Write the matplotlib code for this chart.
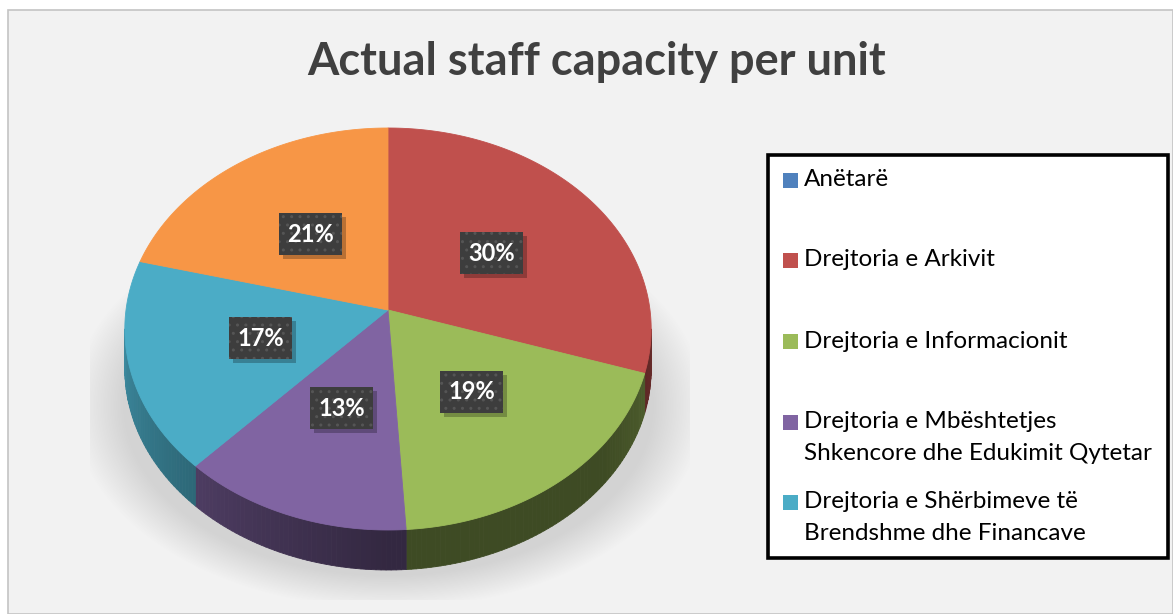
import numpy as np
import matplotlib.pyplot as plt
from matplotlib.colors import to_rgb
from matplotlib.patches import Polygon, Rectangle
from matplotlib.collections import PolyCollection

# ---- data ----
units = [
    "Anëtarë",
    "Drejtoria e Arkivit",
    "Drejtoria e Informacionit",
    "Drejtoria e Mbështetjes\nShkencore dhe Edukimit Qytetar",
    "Drejtoria e Shërbimeve të\nBrendshme dhe Financave",
    "Njësi të tjera",  # sixth entry is clipped out of the legend in the source
]
shares = [0, 30, 19, 13, 17, 21]
colors = ["#4f81bd", "#c0504d", "#9bbb59", "#8064a2", "#4bacc6", "#f79646"]
legend_shown = 5
title = "Actual staff capacity per unit"

# ---- geometry (pixel space) ----
W, H = 1173, 614
CX, CY = 388, 310          # point where slices meet
A, B, K = 262, 199.2, 0.0945  # radii and perspective factor
DEPTH = 40

plt.rcParams["font.family"] = ["Lato", "DejaVu Sans"]


def project(theta, f=1.0):
    t = np.radians(theta)
    w = f * np.cos(t)
    den = 1 + K * w
    return CX + A * f * np.sin(t) / den, CY - B * w / den


def side_factor(theta):
    return np.interp(theta, [95, 130, 180, 265], [0.55, 0.4, 0.4, 0.8])


fig = plt.figure(figsize=(W / 100, H / 100), dpi=100, facecolor="white")
ax = fig.add_axes([0, 0, 1, 1])
ax.set_xlim(0, W)
ax.set_ylim(H, 0)
ax.axis("off")

ax.add_patch(Rectangle((8, 10), W - 8, H - 10, facecolor="#f2f2f2",
                       edgecolor="#c4c4c4", lw=1.2, zorder=0))

# soft shadow under the pie
gx, gy = np.meshgrid(np.arange(90, 690), np.arange(240, 600))
d = np.sqrt(((gx - 388) / 288) ** 2 + ((gy - 405) / 185) ** 2)
alpha = 0.30 * np.clip((1.10 - d) / 0.18, 0, 1)
shadow = np.zeros(gx.shape + (4,))
shadow[..., :3] = 0.55
shadow[..., 3] = alpha
ax.imshow(shadow, extent=(90, 690, 600, 240), zorder=1, interpolation="bilinear")

# slice angles, clockwise from 12 o'clock
total = float(sum(shares))
ends = np.cumsum(shares) / total * 360
starts = ends - np.array(shares) / total * 360

# front side wall
vis_lo, vis_hi = np.degrees(np.arccos(-K)), 360 - np.degrees(np.arccos(-K))
quads, qcols = [], []
for s, e, c in zip(starts, ends, colors):
    lo, hi = max(s, vis_lo), min(e, vis_hi)
    if hi <= lo:
        continue
    th = np.linspace(lo, hi, int(hi - lo) + 2)
    base = np.array(to_rgb(c))
    for t1, t2 in zip(th[:-1], th[1:]):
        x1, y1 = project(t1)
        x2, y2 = project(t2)
        quads.append([(x1, y1), (x2, y2), (x2, y2 + DEPTH), (x1, y1 + DEPTH)])
        qcols.append(base * side_factor((t1 + t2) / 2))
ax.add_collection(PolyCollection(quads, facecolors=qcols, edgecolors=qcols,
                                 linewidths=0.6, zorder=2))

# top surface
for s, e, c in zip(starts, ends, colors):
    if e - s <= 0:
        continue
    th = np.linspace(s, e, max(int(e - s) * 2, 4))
    xs, ys = project(th)
    pts = [(CX, CY)] + list(zip(xs, ys))
    ax.add_patch(Polygon(pts, closed=True, facecolor=c, edgecolor=c,
                         lw=0.6, zorder=3))

# data labels
bw, bh = 63, 42
for s, e, v in zip(starts, ends, shares):
    if v == 0:
        continue
    lx, ly = project((s + e) / 2, 0.5)
    ax.add_patch(Rectangle((lx - bw / 2 + 4, ly - bh / 2 + 4), bw, bh,
                           facecolor="black", alpha=0.25, lw=0, zorder=4))
    ax.add_patch(Rectangle((lx - bw / 2, ly - bh / 2), bw, bh,
                           facecolor="#3d3d3d", edgecolor="#555555",
                           hatch="..", lw=0, zorder=5))
    ax.text(lx, ly, f"{v:.0f}%", color="white", fontsize=17, fontweight="bold",
            ha="center", va="center", zorder=6)

# title
ax.text(597, 62, title, fontsize=32.5, fontweight="bold", color="#404040",
        ha="center", va="center", zorder=6)

# legend (clipped like the source: only the first entries fit)
ax.add_patch(Rectangle((768, 155), 400, 403, facecolor="white",
                       edgecolor="black", lw=2.6, zorder=6))
row_y = [180, 260, 341, 422, 502]
for name, c, y in zip(units[:legend_shown], colors[:legend_shown], row_y):
    ax.add_patch(Rectangle((783, y - 7.5), 15, 15, facecolor=c, lw=0, zorder=7))
    for i, line in enumerate(name.split("\n")):
        ax.text(804, y + 32 * i, line, fontsize=17.5, color="black", ha="left",
                va="center", zorder=7)

fig.savefig("out.png", dpi=100, facecolor="white")
